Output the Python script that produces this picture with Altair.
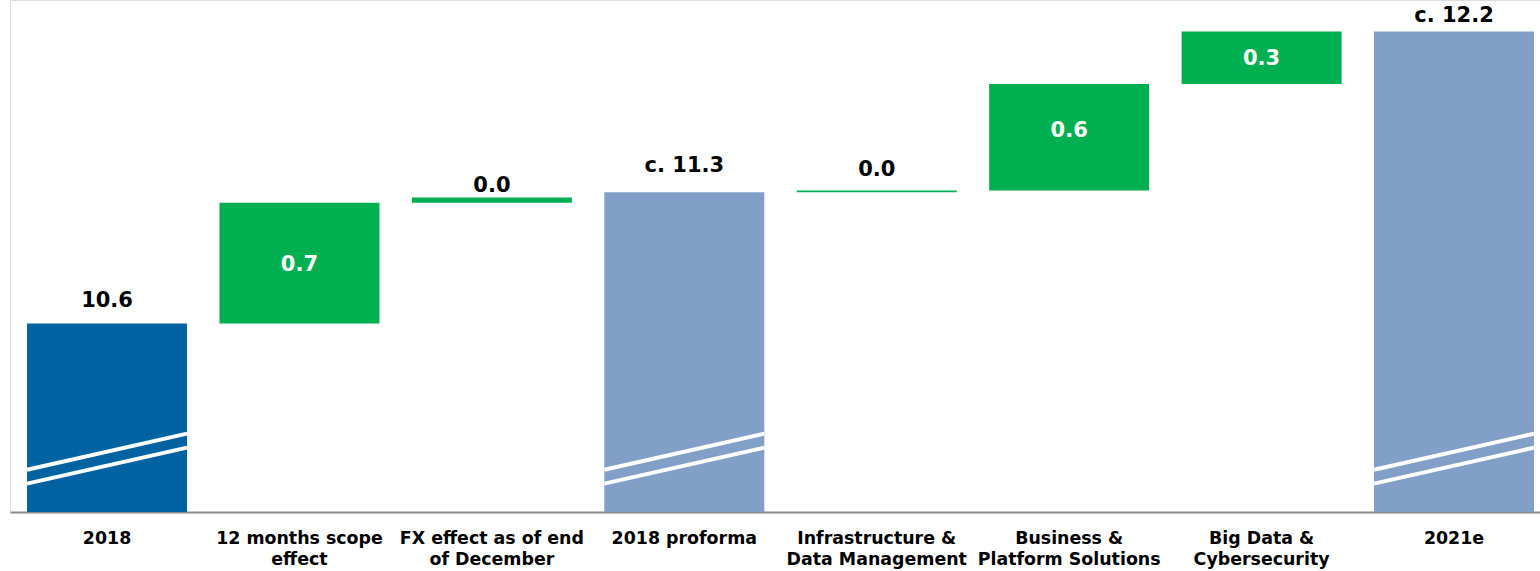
import altair as alt
import pandas as pd

# ---- data ----
categories = [
    "2018",
    "12 months scope\neffect",
    "FX effect as of end\nof December",
    "2018 proforma",
    "Infrastructure &\nData Management",
    "Business &\nPlatform Solutions",
    "Big Data &\nCybersecurity",
    "2021e",
]
kinds = ["start", "delta", "delta", "total", "delta", "delta", "delta", "total"]
values = [10.60, 0.69, 0.03, 11.35, 0.01, 0.61, 0.30, 12.27]
value_labels = ["10.6", "0.7", "0.0", "c. 11.3", "0.0", "0.6", "0.3", "c. 12.2"]

AXIS_MIN = 9.522   # broken axis: bars start here
AXIS_MAX = 12.45

# ---- build waterfall table ----
rows = []
running = 0.0
for cat, kind, val, lab in zip(categories, kinds, values, value_labels):
    if kind == "delta":
        start, end = running, running + val
        running = end
    else:
        start, end = AXIS_MIN, val
        running = val
    rows.append(dict(cat=cat, kind=kind, start=start, end=end,
                     mid=(start + end) / 2, label=lab))
df = pd.DataFrame(rows)

colors = {"start": "#0063A1", "total": "#829FC8", "delta": "#00B050"}

x_scale = alt.Scale(paddingInner=0.1685, paddingOuter=0.0598, align=0.74)
y_scale = alt.Scale(domain=[AXIS_MIN, AXIS_MAX], zero=False, nice=False)

x_enc = alt.X(
    "cat:N",
    sort=categories,
    scale=x_scale,
    title=None,
    axis=alt.Axis(
        labelExpr="split(datum.label, '\\n')",
        labelAngle=0,
        labelFont="DejaVu Sans",
        labelFontWeight="bold",
        labelFontSize=17.4,
        labelColor="#000000",
        labelBaseline="alphabetic",
        labelPadding=31,
        labelLineHeight=21,
        labelLimit=0,
        labelOverlap=False,
        ticks=False,
        domainColor="#8C8C8C",
        domainWidth=2,
        grid=False,
    ),
)

bars = alt.Chart(df).mark_bar().encode(
    x=x_enc,
    y=alt.Y("start:Q", scale=y_scale, axis=None),
    y2="end:Q",
    color=alt.Color("kind:N",
                    scale=alt.Scale(domain=list(colors.keys()),
                                    range=list(colors.values())),
                    legend=None),
)

# broken-axis markers on total bars (white double diagonal)
totals = df[df["kind"] != "delta"]
brk_rows = []
for cat in totals["cat"]:
    brk_rows.append(dict(cat=cat, ya=9.764, yb=9.970))
    brk_rows.append(dict(cat=cat, ya=9.684, yb=9.890))
brk = pd.DataFrame(brk_rows)
breaks = alt.Chart(brk).mark_rule(color="white", strokeWidth=4).encode(
    x=alt.X("cat:N", sort=categories, scale=x_scale, bandPosition=0),
    x2=alt.X2("cat:N", bandPosition=1),
    y=alt.Y("ya:Q", scale=y_scale),
    y2="yb:Q",
)

# white labels inside the sizeable green bars
inside = df[(df["kind"] == "delta") & (df["end"] - df["start"] > 0.1)]
inside_dy = {categories[1]: 2, categories[5]: -6, categories[6]: 1}
inside_layers = []
for cat, dy in inside_dy.items():
    inside_layers.append(
        alt.Chart(inside[inside["cat"] == cat]).mark_text(
            font="DejaVu Sans", fontWeight="bold", fontSize=21,
            color="white", baseline="middle", align="center", dy=dy,
        ).encode(
            x=alt.X("cat:N", sort=categories, scale=x_scale),
            y=alt.Y("mid:Q", scale=y_scale),
            text="label:N",
        )
    )

# black labels above bars / thin lines
outside = df[~df.index.isin(inside.index)]
gaps = {categories[0]: -16, categories[2]: -6, categories[3]: -20,
        categories[4]: -15, categories[7]: -9}
outside_layers = []
for cat, dy in gaps.items():
    outside_layers.append(
        alt.Chart(outside[outside["cat"] == cat]).mark_text(
            font="DejaVu Sans", fontWeight="bold", fontSize=21,
            color="black", baseline="alphabetic", align="center", dy=dy,
        ).encode(
            x=alt.X("cat:N", sort=categories, scale=x_scale),
            y=alt.Y("end:Q", scale=y_scale),
            text="label:N",
        )
    )

chart = alt.layer(bars, breaks, *inside_layers, *outside_layers).properties(
    width=1530,
    height=512,
    padding={"left": 10, "top": 0, "right": 0, "bottom": 59},
    autosize=alt.AutoSizeParams(type="none"),
).configure_view(stroke=None).configure(background="white")

chart.save("out.html", embed_options={"renderer": "svg", "actions": False})
